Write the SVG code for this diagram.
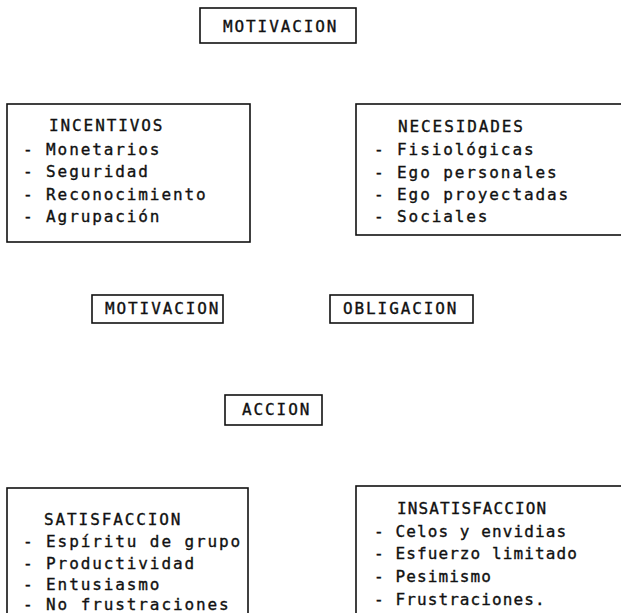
<svg xmlns="http://www.w3.org/2000/svg" width="621" height="613" viewBox="0 0 621 613">
<style>
.b{fill:none;stroke:#111;stroke-width:1.6}
text{font-family:"DejaVu Sans Mono","Liberation Mono",monospace;font-size:16px;letter-spacing:1.9px;fill:#111;stroke:#111;stroke-width:0.35}
.n{letter-spacing:1.1px}
</style>
<rect width="621" height="613" fill="#fff"/>
<g id="motivacion-top"><rect class="b" x="200" y="8" width="156" height="35"/><text x="223" y="32">MOTIVACION</text></g>
<g id="incentivos"><rect class="b" x="7" y="104" width="243" height="138"/>
<text x="49" y="131">INCENTIVOS</text>
<text x="23" y="155">- Monetarios</text>
<text x="23" y="177">- Seguridad</text>
<text x="23" y="200">- Reconocimiento</text>
<text x="23" y="222">- Agrupación</text></g>
<g id="necesidades"><rect class="b" x="356" y="104" width="280" height="131"/>
<text x="398" y="132">NECESIDADES</text>
<text x="374" y="155">- Fisiológicas</text>
<text x="374" y="178">- Ego personales</text>
<text x="374" y="200">- Ego proyectadas</text>
<text x="374" y="222">- Sociales</text></g>
<g id="motivacion-mid"><rect class="b" x="92" y="295" width="131" height="28"/><text x="105" y="314">MOTIVACION</text></g>
<g id="obligacion"><rect class="b" x="330" y="295" width="143" height="28"/><text x="343" y="314">OBLIGACION</text></g>
<g id="accion"><rect class="b" x="225" y="395" width="97" height="30"/><text x="242" y="415">ACCION</text></g>
<g id="satisfaccion"><rect class="b" x="7" y="488" width="241" height="140"/>
<text x="44" y="525">SATISFACCION</text>
<text x="23" y="547">- Espíritu de grupo</text>
<text x="23" y="569">- Productividad</text>
<text x="23" y="590">- Entusiasmo</text>
<text x="23" y="610">- No frustraciones</text></g>
<g id="insatisfaccion"><rect class="b" x="356" y="486" width="280" height="140"/>
<text class="n" x="397" y="514">INSATISFACCION</text>
<text class="n" x="374" y="537">- Celos y envidias</text>
<text class="n" x="374" y="559">- Esfuerzo limitado</text>
<text class="n" x="374" y="582">- Pesimismo</text>
<text class="n" x="374" y="605">- Frustraciones.</text></g>
<g id="connectors"></g>
</svg>
